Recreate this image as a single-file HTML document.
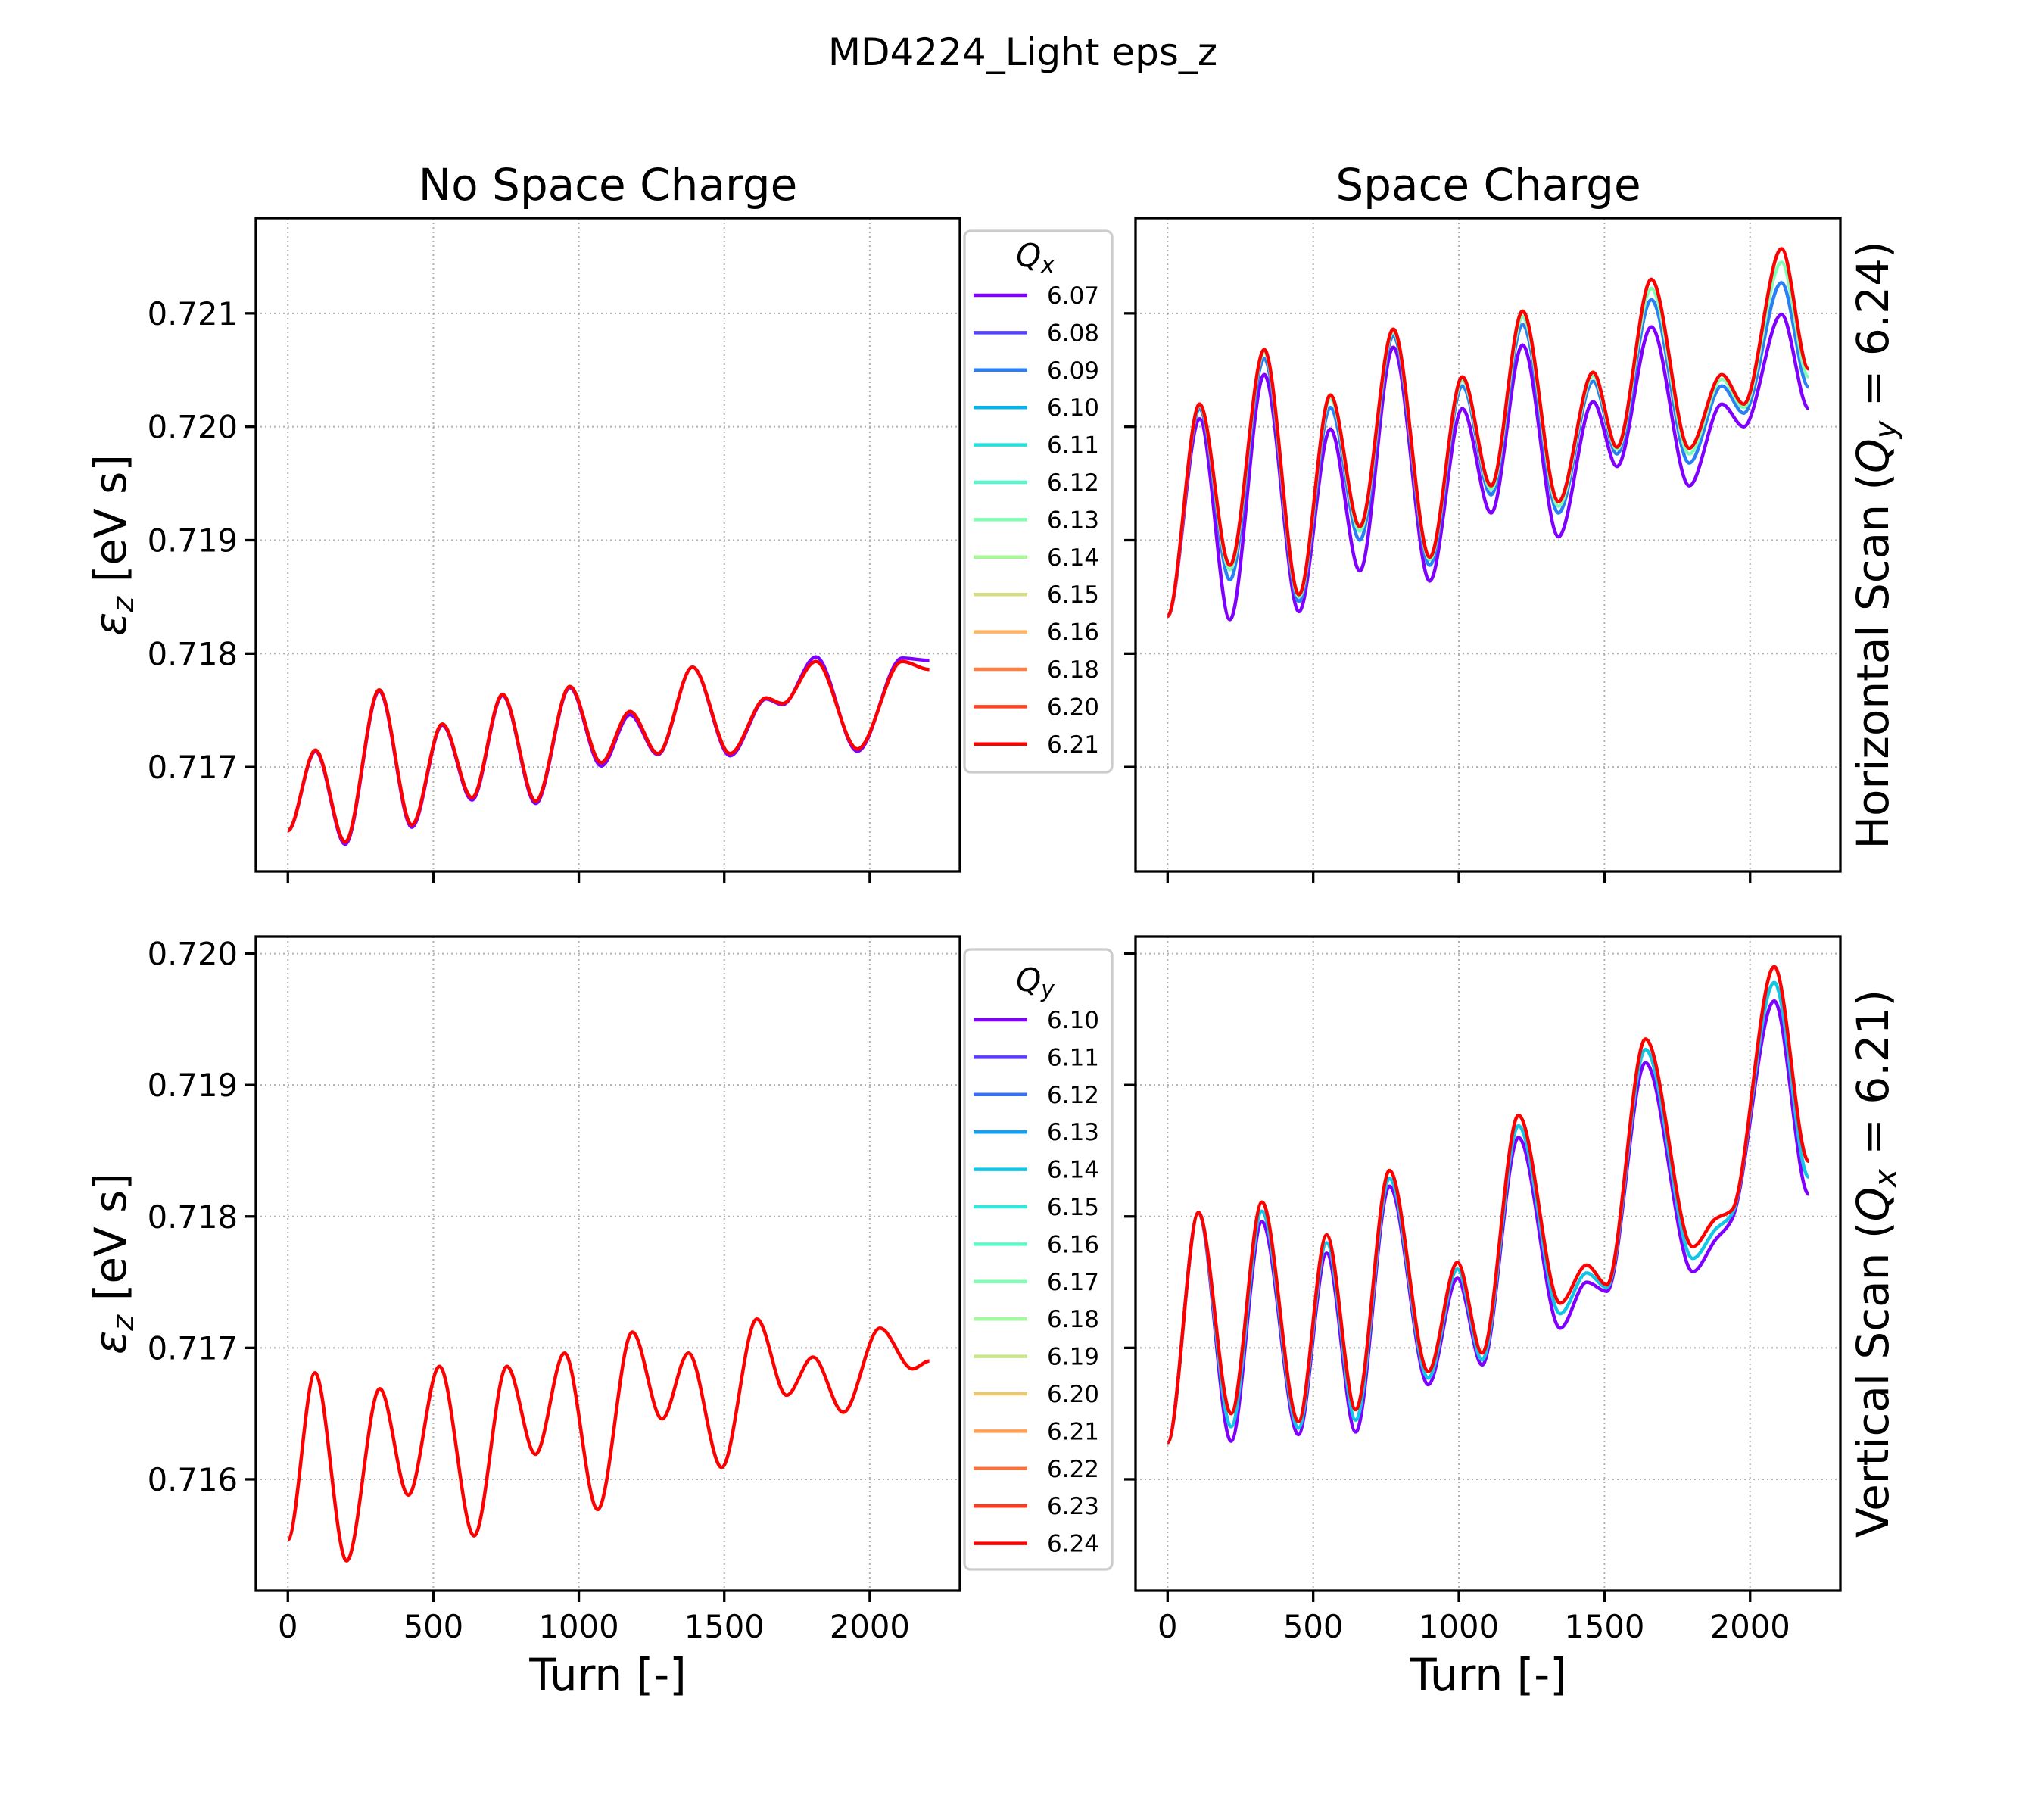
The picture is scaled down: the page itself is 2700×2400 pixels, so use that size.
<!DOCTYPE html>
<html><head><meta charset="utf-8">
<style>
html,body{margin:0;padding:0;background:#fff;}
svg{display:block;font-family:"DejaVu Sans","Liberation Sans",sans-serif;}
</style></head>
<body>
<svg id="fig" width="2700" height="2400" viewBox="0 0 2700 2400" xmlns="http://www.w3.org/2000/svg">
<rect width="2700" height="2400" fill="#fff"/>
<text x="1351" y="86" font-size="50" text-anchor="middle">MD4224_Light eps_z</text>
<text x="803" y="264" font-size="58" text-anchor="middle">No Space Charge</text>
<text x="1966" y="264" font-size="58" text-anchor="middle">Space Charge</text>
<g id="layer"></g>
</svg>
<script>
// ---------- data ----------
const xTicks = [0, 500, 1000, 1500, 2000];
const yTicksTop = [0.717, 0.718, 0.719, 0.720, 0.721];
const yTicksBottom = [0.716, 0.717, 0.718, 0.719, 0.720];
const qxLabels = ["6.07","6.08","6.09","6.10","6.11","6.12","6.13","6.14","6.15","6.16","6.18","6.20","6.21"];
const qyLabels = ["6.10","6.11","6.12","6.13","6.14","6.15","6.16","6.17","6.18","6.19","6.20","6.21","6.22","6.23","6.24"];

const turnsTL = [0,95,197,314,426,531,633,738,852,969,1077,1176,1272,1391,1520,1644,1700,1815,1958,2111,2205];
const tl_607 = [0.71644,0.71714,0.71632,0.71767,0.71647,0.71737,0.71671,0.71763,0.71668,0.71770,0.71701,0.71746,0.71711,0.71788,0.71710,0.71760,0.71755,0.71797,0.71714,0.71796,0.71794];
const tl_621 = [0.71644,0.71715,0.71634,0.71768,0.71649,0.71738,0.71673,0.71764,0.71670,0.71771,0.71704,0.71749,0.71712,0.71788,0.71712,0.71761,0.71756,0.71793,0.71716,0.71793,0.71786];

const turnsTR = [0,110,214,332,451,559,660,775,900,1012,1111,1219,1342,1461,1543,1661,1791,1903,1978,2108,2201];
const tr_607 = [0.71833,0.72007,0.71830,0.72046,0.71837,0.71998,0.71873,0.72070,0.71864,0.72016,0.71924,0.72072,0.71903,0.72022,0.71965,0.72088,0.71948,0.72020,0.72000,0.72099,0.72016];
const tr_609 = [0.71833,0.72016,0.71865,0.72060,0.71846,0.72017,0.71900,0.72080,0.71878,0.72036,0.71940,0.72090,0.71924,0.72040,0.71976,0.72112,0.71968,0.72036,0.72012,0.72127,0.72035];
const tr_613 = [0.71833,0.72019,0.71874,0.72066,0.71850,0.72025,0.71908,0.72084,0.71883,0.72041,0.71945,0.72097,0.71930,0.72045,0.71980,0.72122,0.71976,0.72042,0.72017,0.72145,0.72044];
const tr_621 = [0.71833,0.72020,0.71878,0.72068,0.71852,0.72028,0.71912,0.72086,0.71885,0.72044,0.71948,0.72102,0.71934,0.72048,0.71982,0.72130,0.71981,0.72046,0.72020,0.72157,0.72051];

const turnsBL = [0,93,202,316,414,521,640,753,851,951,1065,1184,1286,1377,1491,1612,1714,1805,1909,2035,2147,2205];
const bl_624 = [0.71554,0.71681,0.71538,0.71669,0.71588,0.71686,0.71557,0.71686,0.71619,0.71696,0.71577,0.71712,0.71646,0.71696,0.71609,0.71722,0.71664,0.71693,0.71651,0.71715,0.71684,0.71690];

const turnsBR = [0,106,218,324,449,546,646,762,895,995,1080,1205,1348,1439,1508,1641,1803,1880,1938,2083,2201];
const br_610 = [0.71628,0.71803,0.71629,0.71796,0.71634,0.71772,0.71636,0.71823,0.71672,0.71753,0.71687,0.71860,0.71715,0.71750,0.71743,0.71917,0.71758,0.71782,0.71798,0.71964,0.71817];
const br_614 = [0.71628,0.71803,0.71640,0.71804,0.71639,0.71780,0.71645,0.71829,0.71677,0.71760,0.71691,0.71869,0.71726,0.71757,0.71746,0.71927,0.71768,0.71790,0.71802,0.71978,0.71830];
const br_624 = [0.71628,0.71803,0.71650,0.71811,0.71644,0.71786,0.71653,0.71835,0.71682,0.71765,0.71696,0.71877,0.71734,0.71763,0.71748,0.71935,0.71777,0.71798,0.71805,0.71990,0.71842];

// ---------- rendering ----------
const NS = "http://www.w3.org/2000/svg";
const layer = document.getElementById('layer');
function mk(tag, attrs, parent) {
  const e = document.createElementNS(NS, tag);
  for (const k in attrs) e.setAttribute(k, attrs[k]);
  (parent || layer).appendChild(e);
  return e;
}
function rainbow(x) {
  const r = Math.min(1, Math.abs(2 * x - 0.5));
  const g = Math.sin(Math.PI * x);
  const b = Math.cos(Math.PI * x / 2);
  const h = v => Math.round(Math.max(0, Math.min(1, v)) * 255).toString(16).padStart(2, '0');
  return '#' + h(r) + h(g) + h(b);
}
function monoPath(px, py) {
  const n = px.length, d = [], m = [];
  for (let i = 0; i < n - 1; i++) d.push((py[i + 1] - py[i]) / (px[i + 1] - px[i]));
  for (let i = 0; i < n; i++) {
    if (i === 0 || i === n - 1) m.push(0);
    else if (d[i - 1] * d[i] <= 0) m.push(0);
    else m.push(2 * d[i - 1] * d[i] / (d[i - 1] + d[i]));
  }
  let s = 'M' + px[0].toFixed(1) + ',' + py[0].toFixed(1);
  for (let i = 0; i < n - 1; i++) {
    const h = px[i + 1] - px[i];
    s += 'C' + (px[i] + h / 3).toFixed(1) + ',' + (py[i] + m[i] * h / 3).toFixed(1) + ' ' +
      (px[i + 1] - h / 3).toFixed(1) + ',' + (py[i + 1] - m[i + 1] * h / 3).toFixed(1) + ' ' +
      px[i + 1].toFixed(1) + ',' + py[i + 1].toFixed(1);
  }
  return s;
}
const XLIM = [-110, 2310];
function makeAxes(name, x0, x1, y0, y1, ylim, yTicks, showYLabels, showXLabels) {
  const g = mk('g', {});
  
  
  const sx = t => x0 + (t - XLIM[0]) / (XLIM[1] - XLIM[0]) * (x1 - x0);
  const sy = v => y1 - (v - ylim[0]) / (ylim[1] - ylim[0]) * (y1 - y0);
  xTicks.forEach(t => {
    const gl = mk('line', {x1: sx(t), x2: sx(t), y1: y0, y2: y1, stroke: '#b0b0b0', 'stroke-width': 2, 'stroke-dasharray': '2,4'}, g);
    
    
    mk('line', {x1: sx(t), x2: sx(t), y1: y1, y2: y1 + 15, stroke: '#000', 'stroke-width': 3.3}, g);
    if (showXLabels) {
      const tx = mk('text', {x: sx(t), y: y1 + 62, 'font-size': 41.7, 'text-anchor': 'middle'}, g);
      tx.textContent = String(t);
      
      
    }
  });
  yTicks.forEach(v => {
    const gl = mk('line', {x1: x0, x2: x1, y1: sy(v), y2: sy(v), stroke: '#b0b0b0', 'stroke-width': 2, 'stroke-dasharray': '2,4'}, g);
    
    
    mk('line', {x1: x0 - 15, x2: x0, y1: sy(v), y2: sy(v), stroke: '#000', 'stroke-width': 3.3}, g);
    if (showYLabels) {
      const tx = mk('text', {x: x0 - 24, y: sy(v) + 15, 'font-size': 41.7, 'text-anchor': 'end'}, g);
      tx.textContent = v.toFixed(3);
      
      
    }
  });
  const clipId = name + '-clip';
  const cp = mk('clipPath', {id: clipId}, g);
  mk('rect', {x: x0, y: y0, width: x1 - x0, height: y1 - y0}, cp);
  const lines = mk('g', {'clip-path': 'url(#' + clipId + ')'}, g);
  return {g, sx, sy, lines, x0, x1, y0, y1};
}
function drawSeries(ax, turns, vals, color, nm) {
  const p = mk('path', {d: monoPath(turns.map(ax.sx), vals.map(ax.sy)), fill: 'none', stroke: color, 'stroke-width': 4.5, 'stroke-linejoin': 'round'}, ax.lines);
  
  
}
function frame(ax) {
  const r = mk('rect', {x: ax.x0, y: ax.y0, width: ax.x1 - ax.x0, height: ax.y1 - ax.y0, fill: 'none', stroke: '#000', 'stroke-width': 3.3}, ax.g);
  
  
}
function legend(name, x, y, w, h, sub, labels, firstY) {
  const g = mk('g', {});
  
  
  mk('rect', {x, y, width: w, height: h, rx: 8, fill: '#fff', 'fill-opacity': 0.8, stroke: '#cccccc', 'stroke-width': 3.3}, g);
  const t = mk('text', {x: x + w / 2 - 4, y: firstY - 38, 'font-size': 42, 'font-style': 'italic', 'text-anchor': 'middle'}, g);
  t.textContent = 'Q';
  const ts = mk('tspan', {dy: 8, 'font-size': 30}, t);
  ts.textContent = sub;
  
  
  labels.forEach((lab, i) => {
    const yy = firstY + i * 49.4;
    const c = rainbow(i / (labels.length - 1));
    const e = mk('g', {}, g);
    
    
    mk('line', {x1: x + 12, x2: x + 83, y1: yy, y2: yy, stroke: c, 'stroke-width': 4.5}, e);
    const tx = mk('text', {x: x + 109, y: yy + 11, 'font-size': 31}, e);
    tx.textContent = lab;
  });
}

const yTop = [0.71608, 0.72184], yBot = [0.715153, 0.72013];
const TL = makeAxes('axes-no-sc-horizontal', 338, 1268, 288, 1151, yTop, yTicksTop, true, false);
const TR = makeAxes('axes-sc-horizontal', 1500, 2431, 288, 1151, yTop, yTicksTop, false, false);
const BL = makeAxes('axes-no-sc-vertical', 338, 1268, 1237, 2101, yBot, yTicksBottom, true, true);
const BR = makeAxes('axes-sc-vertical', 1500, 2431, 1237, 2101, yBot, yTicksBottom, false, true);

drawSeries(TL, turnsTL, tl_607, rainbow(0), 'line-qx-6.07');
drawSeries(TL, turnsTL, tl_621, rainbow(1), 'line-qx-6.21');
drawSeries(TR, turnsTR, tr_607, rainbow(0), 'line-qx-6.07');
drawSeries(TR, turnsTR, tr_609, rainbow(2 / 12), 'line-qx-6.09');
drawSeries(TR, turnsTR, tr_613, rainbow(6 / 12), 'line-qx-6.13');
drawSeries(TR, turnsTR, tr_621, rainbow(1), 'line-qx-6.21');
drawSeries(BL, turnsBL, bl_624, rainbow(1), 'line-qy-6.24');
drawSeries(BR, turnsBR, br_610, rainbow(0), 'line-qy-6.10');
drawSeries(BR, turnsBR, br_614, rainbow(4 / 14), 'line-qy-6.14');
drawSeries(BR, turnsBR, br_624, rainbow(1), 'line-qy-6.24');
[TL, TR, BL, BR].forEach(frame);

legend('legend-qx', 1274, 305, 195, 715, 'x', qxLabels, 390);
legend('legend-qy', 1274, 1254, 195, 819, 'y', qyLabels, 1347);

function label(txt, x, y, rot, nm, sub, rest) {
  const t = mk('text', {x, y, 'font-size': 58, 'text-anchor': 'middle', transform: rot ? 'rotate(-90 ' + x + ' ' + y + ')' : ''});
  
  
  if (sub) {
    const a = mk('tspan', {}, t); a.textContent = txt;
    const b = mk('tspan', {'font-style': 'italic'}, t); b.textContent = sub[0];
    const c = mk('tspan', {'font-size': 40, 'font-style': 'italic', dy: 10}, t); c.textContent = sub[1];
    const d = mk('tspan', {dy: -10}, t); d.textContent = rest;
  } else t.textContent = txt;
}
label('Turn [-]', 803, 2232, false, 'x-axis-title-left');
label('Turn [-]', 1966, 2232, false, 'x-axis-title-right');
label('', 166, 720, true, 'y-axis-title-top', ['ε', 'z'], ' [eV s]');
label('', 166, 1669, true, 'y-axis-title-bottom', ['ε', 'z'], ' [eV s]');
label('Horizontal Scan (', 2494, 720, true, 'row-label-horizontal-scan', ['Q', 'y'], ' = 6.24)');
label('Vertical Scan (', 2494, 1669, true, 'row-label-vertical-scan', ['Q', 'x'], ' = 6.21)');
</script>
</body></html>
